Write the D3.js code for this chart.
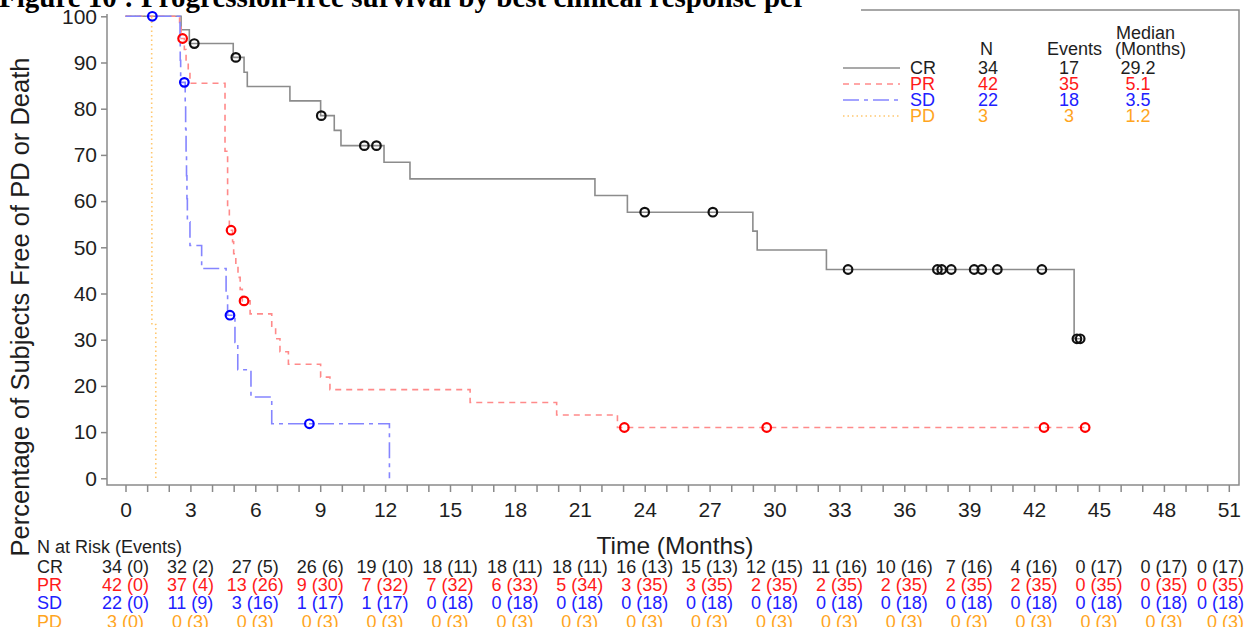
<!DOCTYPE html>
<html>
<head>
<meta charset="utf-8">
<script src="https://cdn.jsdelivr.net/npm/d3@7"></script>
<style>
  body { margin: 0; background: #fff; }
  svg { display: block; font-family: 'Liberation Sans', Arial, sans-serif; }
</style>
</head>
<body>
<div id="chart"></div>
<script>
const groups = ['CR', 'PR', 'SD', 'PD']
const groupN = [34, 42, 22, 3]
const groupEvents = [17, 35, 18, 3]
const groupMedian = ['29.2', '5.1', '3.5', '1.2']

const xTickLabels = [0, 3, 6, 9, 12, 15, 18, 21, 24, 27, 30, 33, 36, 39, 42, 45, 48, 51]
const yTickLabels = [0, 10, 20, 30, 40, 50, 60, 70, 80, 90, 100]

// step points [month, % free of PD or death]
const crSteps = [[0, 100], [2.57, 97.1], [2.95, 94.1], [4.98, 91.1], [5.48, 87.9], [5.63, 84.8],
  [7.6, 81.7], [9.02, 78.5], [9.65, 75.3], [9.96, 72.0], [11.95, 68.4], [13.15, 64.8],
  [21.7, 61.2], [23.2, 57.6], [29.0, 53.5], [29.2, 49.4], [32.4, 45.2], [43.85, 30.2], [44.13, 30.2]]
const prSteps = [[0, 100], [2.5, 97.6], [2.57, 95.2], [2.72, 92.8], [2.8, 90.3], [2.9, 87.9],
  [2.98, 85.5], [4.6, 70.8], [4.72, 58.6], [4.8, 53.7], [4.95, 51.2], [5.0, 48.6], [5.1, 46.0],
  [5.2, 43.5], [5.3, 40.9], [5.4, 38.4], [5.76, 35.6], [6.76, 32.9], [6.94, 30.2], [7.14, 27.4],
  [7.53, 24.7], [9.02, 21.9], [9.45, 19.2], [15.93, 16.4], [19.93, 13.7], [22.74, 11.0], [44.36, 11.0]]
const sdSteps = [[0, 100], [2.52, 95.2], [2.53, 90.5], [2.55, 85.7], [2.76, 80.7], [2.78, 75.6],
  [2.8, 70.6], [2.82, 65.5], [2.84, 60.5], [2.86, 55.5], [2.98, 50.4], [3.52, 45.4], [4.65, 40.3],
  [4.72, 35.3], [5.06, 29.4], [5.19, 23.5], [5.8, 17.6], [6.76, 11.8], [12.2, 0]]
const pdSteps = [[0, 100], [1.21, 66.7], [1.22, 33.3], [1.4, 0]]

// censored times (months)
const crCensor = [3.18, 5.1, 9.05, 11.04, 11.6, 24.0, 27.15, 33.4, 37.53, 37.73, 38.17, 39.23,
  39.58, 40.3, 42.36, 43.98, 44.13]
const prCensor = [2.64, 4.88, 5.48, 23.06, 29.64, 42.46, 44.36]
const sdCensor = [1.24, 2.72, 4.83, 8.5]
const pdCensor = []

// number at risk (events) at each labelled month
const crRisk = ['34 (0)', '32 (2)', '27 (5)', '26 (6)', '19 (10)', '18 (11)', '18 (11)', '18 (11)',
  '16 (13)', '15 (13)', '12 (15)', '11 (16)', '10 (16)', '7 (16)', '4 (16)', '0 (17)', '0 (17)', '0 (17)']
const prRisk = ['42 (0)', '37 (4)', '13 (26)', '9 (30)', '7 (32)', '7 (32)', '6 (33)', '5 (34)',
  '3 (35)', '3 (35)', '2 (35)', '2 (35)', '2 (35)', '2 (35)', '2 (35)', '0 (35)', '0 (35)', '0 (35)']
const sdRisk = ['22 (0)', '11 (9)', '3 (16)', '1 (17)', '1 (17)', '0 (18)', '0 (18)', '0 (18)',
  '0 (18)', '0 (18)', '0 (18)', '0 (18)', '0 (18)', '0 (18)', '0 (18)', '0 (18)', '0 (18)', '0 (18)']
const pdRisk = ['3 (0)', '0 (3)', '0 (3)', '0 (3)', '0 (3)', '0 (3)', '0 (3)', '0 (3)',
  '0 (3)', '0 (3)', '0 (3)', '0 (3)', '0 (3)', '0 (3)', '0 (3)', '0 (3)', '0 (3)', '0 (3)']

const width = 1247
const height = 627
const frame = { left: 107, right: 1239, top: 10, bottom: 485, titleEnd: 861 }
const axisColor = '#8a8a8a'
const textColor = '#1e1e1e'

const series = [
  { steps: crSteps, censor: crCensor, risk: crRisk, line: '#8c8c8c', text: textColor, mark: '#111', dash: null },
  { steps: prSteps, censor: prCensor, risk: prRisk, line: '#ff8a8a', text: '#ff1a1a', mark: '#ff0000', dash: '6,5' },
  { steps: sdSteps, censor: sdCensor, risk: sdRisk, line: '#8585ff', text: '#2020ff', mark: '#0000ff', dash: '16,5,4,5' },
  { steps: pdSteps, censor: pdCensor, risk: pdRisk, line: '#ffc870', text: '#ffa51e', mark: '#ffa500', dash: '1.5,3' },
]

const x = d3.scaleLinear().domain([0, 51]).range([125.5, 1228.8])
const y = d3.scaleLinear().domain([0, 100]).range([478.3, 16.3])

const svg = d3
  .select('#chart')
  .append('svg')
  .attr('width', width)
  .attr('height', height)
  .attr('viewBox', `0 0 ${width} ${height}`)

// title, cut at the top edge of the page
svg
  .append('text')
  .attr('x', -1)
  .attr('y', 7)
  .attr('font-family', "'Liberation Serif', 'Times New Roman', serif")
  .attr('font-weight', 'bold')
  .attr('font-size', 29)
  .attr('fill', '#000')
  .text('Figure 10 : Progression-free survival by best clinical response per')

// plot frame (top edge hidden behind the title)
const framePath = d3.path()
framePath.moveTo(frame.titleEnd, frame.top)
framePath.lineTo(frame.right, frame.top)
framePath.lineTo(frame.right, frame.bottom)
framePath.lineTo(frame.left, frame.bottom)
framePath.lineTo(frame.left, frame.top + 4)
svg
  .append('path')
  .attr('d', framePath.toString())
  .attr('fill', 'none')
  .attr('stroke', axisColor)
  .attr('stroke-width', 1.5)

// axes
const xAxis = svg
  .append('g')
  .attr('transform', `translate(0,${frame.bottom})`)
  .call(
    d3.axisBottom(x)
      .tickValues(d3.range(0, 52))
      .tickSize(7)
      .tickPadding(10)
      .tickFormat((d) => (xTickLabels.includes(d) ? d : ''))
  )
const yAxis = svg
  .append('g')
  .attr('transform', `translate(${frame.left},0)`)
  .call(d3.axisLeft(y).tickValues(yTickLabels).tickSize(6).tickPadding(4))

;[xAxis, yAxis].forEach((ax) => {
  ax.select('.domain').remove()
  ax.selectAll('line').attr('stroke', axisColor).attr('stroke-width', 1.5)
  ax.selectAll('text')
    .attr('fill', textColor)
    .style('font-family', "'Liberation Sans', Arial, sans-serif")
    .style('font-size', '21px')
})

// axis titles
svg
  .append('text')
  .attr('x', x(25.4))
  .attr('y', 554)
  .attr('text-anchor', 'middle')
  .attr('fill', textColor)
  .attr('font-size', 24.5)
  .text('Time (Months)')

svg
  .append('text')
  .attr('transform', 'translate(29,307) rotate(-90)')
  .attr('text-anchor', 'middle')
  .attr('fill', textColor)
  .attr('font-size', 25.5)
  .text('Percentage of Subjects Free of PD or Death')

// survival curves
const line = d3
  .line()
  .curve(d3.curveStepAfter)
  .x((d) => x(d[0]))
  .y((d) => y(d[1]))

const survAt = (steps, t) => steps[d3.bisector((d) => d[0]).right(steps, t) - 1][1]

const drawOrder = [3, 0, 1, 2]
drawOrder.forEach((i) => {
  const s = series[i]
  svg
    .append('path')
    .attr('d', line(s.steps))
    .attr('fill', 'none')
    .attr('stroke', s.line)
    .attr('stroke-width', 1.6)
    .attr('stroke-dasharray', s.dash)
})

drawOrder.forEach((i) => {
  const s = series[i]
  svg
    .append('g')
    .selectAll('circle')
    .data(s.censor)
    .join('circle')
    .attr('cx', (d) => x(d))
    .attr('cy', (d) => y(survAt(s.steps, d)))
    .attr('r', 4.3)
    .attr('fill', 'none')
    .attr('stroke', s.mark)
    .attr('stroke-width', 2.2)
})

// legend
const legend = svg.append('g').attr('font-size', 18)
const headers = [
  { label: 'N', x: 980, y: 55 },
  { label: 'Events', x: 1047, y: 55 },
  { label: 'Median', x: 1116, y: 39 },
  { label: '(Months)', x: 1115, y: 55 },
]
headers.forEach((h) => {
  legend.append('text').attr('x', h.x).attr('y', h.y).attr('fill', textColor).text(h.label)
})
groups.forEach((g, i) => {
  const s = series[i]
  const by = 74 + i * 16
  legend
    .append('line')
    .attr('x1', 843)
    .attr('x2', 900)
    .attr('y1', by - 6)
    .attr('y2', by - 6)
    .attr('stroke', s.line)
    .attr('stroke-width', 1.6)
    .attr('stroke-dasharray', s.dash)
  legend.append('text').attr('x', 910).attr('y', by).attr('fill', s.text).text(g)
  legend.append('text').attr('x', 978).attr('y', by).attr('fill', s.text).text(groupN[i])
  legend.append('text').attr('x', 1069).attr('y', by).attr('text-anchor', 'middle').attr('fill', s.text).text(groupEvents[i])
  legend.append('text').attr('x', 1138).attr('y', by).attr('text-anchor', 'middle').attr('fill', s.text).text(groupMedian[i])
})

// number at risk table
const table = svg.append('g').attr('font-size', 18)
table.append('text').attr('x', 37).attr('y', 553).attr('fill', textColor).text('N at Risk (Events)')
const lastCol = xTickLabels.length - 1
groups.forEach((g, i) => {
  const s = series[i]
  const by = 572.5 + i * 18.4
  table.append('text').attr('x', 37).attr('y', by).attr('fill', s.text).text(g)
  table
    .append('g')
    .selectAll('text')
    .data(s.risk)
    .join('text')
    // the last column is pulled in so it stays on the page
    .attr('x', (d, j) => (j === lastCol ? width - 3 : x(xTickLabels[j])))
    .attr('y', by)
    .attr('text-anchor', (d, j) => (j === lastCol ? 'end' : 'middle'))
    .attr('fill', s.text)
    .text((d) => d)
})
</script>
</body>
</html>
